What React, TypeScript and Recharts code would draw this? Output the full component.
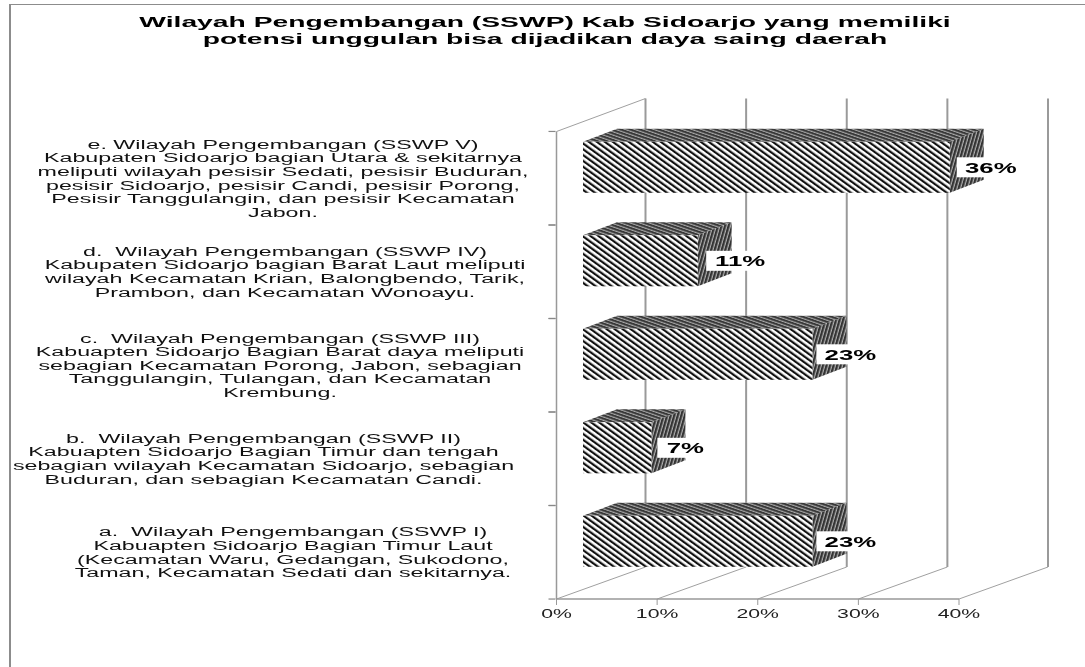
import React from 'react';
import { BarChart, Bar, XAxis, YAxis, CartesianGrid, LabelList } from 'recharts';

const titleLines = [
  'Wilayah Pengembangan (SSWP) Kab Sidoarjo yang memiliki',
  'potensi unggulan bisa dijadikan daya saing daerah',
];
const categories = [
  'e. Wilayah Pengembangan (SSWP V)\nKabupaten Sidoarjo bagian Utara & sekitarnya\nmeliputi wilayah pesisir Sedati, pesisir Buduran,\npesisir Sidoarjo, pesisir Candi, pesisir Porong,\nPesisir Tanggulangin, dan pesisir Kecamatan\nJabon.',
  'd.  Wilayah Pengembangan (SSWP IV)\nKabupaten Sidoarjo bagian Barat Laut meliputi\nwilayah Kecamatan Krian, Balongbendo, Tarik,\nPrambon, dan Kecamatan Wonoayu.',
  'c.  Wilayah Pengembangan (SSWP III)\nKabuapten Sidoarjo Bagian Barat daya meliputi\nsebagian Kecamatan Porong, Jabon, sebagian\nTanggulangin, Tulangan, dan Kecamatan\nKrembung.',
  'b.  Wilayah Pengembangan (SSWP II)\nKabuapten Sidoarjo Bagian Timur dan tengah\nsebagian wilayah Kecamatan Sidoarjo, sebagian\nBuduran, dan sebagian Kecamatan Candi.',
  'a.  Wilayah Pengembangan (SSWP I)\nKabuapten Sidoarjo Bagian Timur Laut\n(Kecamatan Waru, Gedangan, Sukodono,\nTaman, Kecamatan Sedati dan sekitarnya.',
];
const values = [36.45, 11.4, 22.8, 6.8, 22.8];
const xTicks = [0, 10, 20, 30, 40];
const data = categories.map((category, i) => ({ category, value: values[i] }));

const FONT = '"Liberation Sans", Arial, sans-serif';
const DX = 89, DY = 32;
const BDX = 34, BDY = 13;
const OFFX = 26.5, OFFY = -10.7;
const tickCenters = [283, 285, 280, 263.5, 293];
const labelNudges = [41, 42.5, 38, 34, 38];

const BarShape = (p: any) => {
  const x = p.x + OFFX, y = p.y + OFFY, w = p.width, h = p.height;
  const r = x + w, b = y + h;
  return (
    <g>
      <polygon points={`${x},${y} ${x + BDX},${y - BDY} ${r + BDX},${y - BDY} ${r},${y}`} fill="url(#hTop)" />
      <polygon points={`${r},${y} ${r + BDX},${y - BDY} ${r + BDX},${b - BDY} ${r},${b}`} fill="url(#hSide)" />
      <rect x={x} y={y} width={w} height={h} fill="url(#hFront)" />
    </g>
  );
};

const BarLabel = (p: any) => {
  const r = p.x + p.width + OFFX;
  const cy = p.y + p.height / 2 + OFFY;
  const c = r + labelNudges[p.index];
  const txt = `${Math.round(p.value)}%`;
  const half = txt.length > 2 ? 34 : 28;
  return (
    <g>
      <rect x={c - half} y={cy - 10} width={half * 2} height={20} fill="#fff" />
      <g transform={`translate(${c},${cy + 5.5}) scale(1.72,1)`}>
        <text textAnchor="middle" fontFamily={FONT} fontWeight="bold" fontSize={15} fill="#000">{txt}</text>
      </g>
    </g>
  );
};

const CategoryTick = (p: any) => {
  const lines = String(p.payload.value).split('\n');
  const lh = 13.6;
  const top = p.y - ((lines.length - 1) * lh) / 2 + 4.5;
  const half = 46.8;
  return (
    <g>
      <line x1={p.x} x2={p.x + 7} y1={p.y - half} y2={p.y - half} stroke="#888" strokeWidth={1.2} />
      <line x1={p.x} x2={p.x + 7} y1={p.y + half} y2={p.y + half} stroke="#888" strokeWidth={1.2} />
      {lines.map((l: string, i: number) => (
        <g key={i} transform={`translate(${tickCenters[p.index]},${top + i * lh}) scale(1.86,1)`}>
          <text textAnchor="middle" fontFamily={FONT} fontSize={12.5} fill="#111" xmlSpace="preserve">{l}</text>
        </g>
      ))}
    </g>
  );
};

const ValueTick = (p: any) => (
  <g transform={`translate(${p.x},${p.y + 11}) scale(1.7,1)`}>
    <text textAnchor="middle" fontFamily={FONT} fontSize={12.5} fill="#222">{p.payload.value}%</text>
  </g>
);

const WallLine = (p: any) => {
  const { x1, y1, y2 } = p;
  const first = Math.abs(x1 - 556.5) < 1;
  return (
    <g>
      <line x1={x1 + DX} x2={x1 + DX} y1={Math.min(y1, y2) - DY - 1} y2={Math.max(y1, y2) - DY} stroke="#9a9a9a" strokeWidth={2} />
      <line x1={x1} x2={x1 + DX} y1={Math.max(y1, y2)} y2={Math.max(y1, y2) - DY} stroke="#a0a0a0" strokeWidth={1} />
      {first && <line x1={x1} x2={x1 + DX} y1={Math.min(y1, y2)} y2={Math.min(y1, y2) - DY - 1} stroke="#a0a0a0" strokeWidth={1} />}
    </g>
  );
};

export default function App() {
  return (
    <div style={{ position: 'absolute', left: 0, top: 0, width: 1085, height: 667, background: '#fff', overflow: 'hidden', filter: 'blur(0.45px)' }}>
      <div style={{ position: 'absolute', left: 8.5, top: 4, width: 1100, height: 700, borderLeft: '2.5px solid #8c8c8c', borderTop: '1.5px solid #8c8c8c' }} />
      <BarChart
        width={1085}
        height={667}
        data={data}
        layout="vertical"
        barSize={51}
        margin={{ top: 131.5, right: 126, bottom: 0, left: 0 }}
        style={{ position: 'absolute', left: 0, top: 0 }}
      >
        <defs>
          <pattern id="hFront" patternUnits="userSpaceOnUse" width="4.7" height="5.6" patternTransform="rotate(-54)">
            <rect width="4.7" height="5.6" fill="#fff" />
            <rect width="2.2" height="5.6" fill="#111" />
          </pattern>
          <pattern id="hTop" patternUnits="userSpaceOnUse" width="5.6" height="3.1" patternTransform="rotate(19)">
            <rect width="5.6" height="3.1" fill="#a8a8a8" />
            <rect width="5.6" height="2" fill="#383838" />
          </pattern>
          <pattern id="hSide" patternUnits="userSpaceOnUse" width="3.4" height="5" patternTransform="rotate(16)">
            <rect width="3.4" height="5" fill="#b0b0b0" />
            <rect width="2.2" height="5" fill="#333" />
          </pattern>
        </defs>
        <CartesianGrid horizontal={false} vertical={WallLine as any} />
        <XAxis
          type="number"
          domain={[0, 40]}
          ticks={xTicks}
          height={68}
          axisLine={{ stroke: '#999', strokeWidth: 1.5 }}
          tickLine={{ stroke: '#999' }}
          tick={ValueTick as any}
          interval={0}
        />
        <YAxis
          type="category"
          dataKey="category"
          width={556.5}
          axisLine={{ stroke: '#999', strokeWidth: 1.5 }}
          tickLine={false}
          tick={CategoryTick as any}
          interval={0}
        />
        <Bar dataKey="value" isAnimationActive={false} shape={BarShape as any}>
          <LabelList dataKey="value" content={BarLabel as any} />
        </Bar>
        {titleLines.map((t, i) => (
          <g key={t} transform={`translate(545,${27 + i * 17}) scale(1.95,1)`}>
            <text textAnchor="middle" fontFamily={FONT} fontWeight="bold" fontSize={14.5} fill="#000">{t}</text>
          </g>
        ))}
      </BarChart>
    </div>
  );
}
